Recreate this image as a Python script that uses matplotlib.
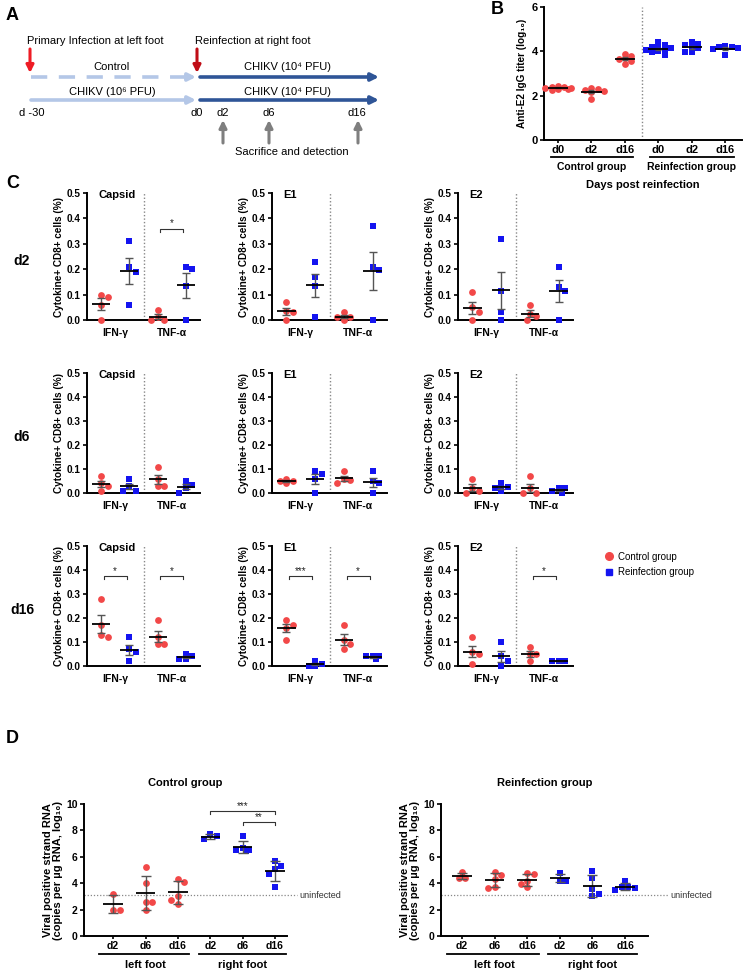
import numpy as np
import matplotlib
matplotlib.use("Agg")
import matplotlib.pyplot as plt
from matplotlib.lines import Line2D

plt.rcParams["font.family"] = ["Liberation Sans", "DejaVu Sans"]

W, H = 743, 972
RED = "#f24848"
BLUE = "#1414f0"
GREY = "#555555"
LIGHT = "#b4c7e7"
DARK = "#2f5597"

# ---------------- data ----------------
# panel B: anti-E2 IgG titer (log10)
b_ticks = ["d0", "d2", "d16", "d0", "d2", "d16"]
b_control = [
    [2.3, 2.35, 2.4, 2.45, 2.35, 2.3, 2.25, 2.4],
    [2.2, 2.3, 2.35, 2.15, 1.85, 2.25],
    [3.8, 3.9, 3.65, 3.55, 3.45, 3.7],
]
b_reinf = [
    [4.1, 4.2, 4.4, 3.95, 4.05, 4.15, 4.3, 3.85, 4.0, 4.2],
    [4.4, 4.3, 4.15, 4.35, 3.95, 3.95, 4.2],
    [4.25, 4.2, 4.15, 4.1, 3.85, 4.2],
]

# panel C: cytokine+ CD8+ cells (%), per antigen:
# [IFN control, IFN reinfection, TNF control, TNF reinfection]
c_days = ["d2", "d6", "d16"]
c_antigens = ["Capsid", "E1", "E2"]
c_cytokines = ["IFN-γ", "TNF-α"]
c_d2 = [
    [[0.09, 0.10, 0.06, 0.0], [0.31, 0.21, 0.19, 0.06], [0.04, 0.01, 0.0, 0.0], [0.21, 0.20, 0.135, 0.0]],
    [[0.07, 0.03, 0.035, 0.0], [0.23, 0.17, 0.135, 0.01], [0.03, 0.01, 0.01, 0.0], [0.37, 0.21, 0.195, 0.0]],
    [[0.11, 0.05, 0.03, 0.0], [0.32, 0.115, 0.03, 0.0], [0.06, 0.025, 0.015, 0.0], [0.21, 0.13, 0.115, 0.0]],
]
c_d6 = [
    [[0.07, 0.04, 0.03, 0.01], [0.06, 0.03, 0.01, 0.01], [0.11, 0.06, 0.03, 0.03], [0.05, 0.035, 0.02, 0.0]],
    [[0.06, 0.05, 0.05, 0.04], [0.09, 0.08, 0.06, 0.0], [0.09, 0.06, 0.055, 0.04], [0.09, 0.05, 0.04, 0.0]],
    [[0.06, 0.02, 0.01, 0.0], [0.04, 0.025, 0.02, 0.01], [0.07, 0.02, 0.0, 0.0], [0.02, 0.02, 0.01, 0.0]],
]
c_d16 = [
    [[0.28, 0.17, 0.13, 0.12], [0.12, 0.07, 0.06, 0.02], [0.19, 0.12, 0.09, 0.09], [0.05, 0.04, 0.03, 0.03]],
    [[0.19, 0.17, 0.16, 0.11], [0.02, 0.01, 0.0, 0.0], [0.17, 0.11, 0.09, 0.07], [0.04, 0.04, 0.04, 0.03]],
    [[0.12, 0.06, 0.05, 0.01], [0.10, 0.04, 0.02, 0.0], [0.08, 0.05, 0.05, 0.02], [0.02, 0.02, 0.02, 0.02]],
]
c_data = [c_d2, c_d6, c_d16]
# (row, col): list of (group a, group b, y, label)
c_sig = {
    (0, 0): [(2, 3, 0.36, "*")],
    (2, 0): [(0, 1, 0.375, "*"), (2, 3, 0.375, "*")],
    (2, 1): [(0, 1, 0.375, "***"), (2, 3, 0.375, "*")],
    (2, 2): [(2, 3, 0.375, "*")],
}

# panel D: viral positive strand RNA (log10 copies per ug RNA)
d_ticks = ["d2", "d6", "d16", "d2", "d6", "d16"]
d_ctrl_left = [[3.2, 2.0, 2.0], [5.2, 4.0, 2.6, 2.6, 2.0], [4.3, 4.1, 3.0, 2.7, 2.4]]
d_ctrl_right = [[7.7, 7.55, 7.35], [7.6, 6.7, 6.5, 6.45, 6.5], [5.7, 5.3, 5.1, 4.7, 3.7]]
d_re_left = [[4.85, 4.4, 4.4], [4.85, 4.65, 4.35, 3.75, 3.6], [4.75, 4.7, 4.2, 3.95, 3.7]]
d_re_right = [[4.75, 4.2, 4.2], [4.95, 4.4, 3.55, 3.15, 3.0], [4.2, 3.75, 3.7, 3.6, 3.45]]
d_uninfected = 3.1
d_sig = [(3, 5, 9.45, "***"), (4, 5, 8.6, "**")]


# ---------------- helpers ----------------
def px_axes(fig, l, t, r, b):
    return fig.add_axes([l / W, 1 - b / H, (r - l) / W, (b - t) / H])


def under(ax, px):
    return -px / (ax.get_position().height * H)


def swarm_offsets(vals, dx, dy, wmax=0.38):
    # simple beeswarm: dx/dy = marker diameter in data units, spread capped at wmax
    vals = np.asarray(vals, float)
    order = np.argsort(-vals, kind="stable")
    placed = []
    offs = np.zeros(len(vals))
    flip = 1
    nmax = int(wmax / (0.5 * dx))
    for i in order:
        cands = [0.0]
        for k in range(1, nmax + 1):
            cands += [flip * k * 0.5, -flip * k * 0.5]

        def mind(c):
            if not placed:
                return 9.0
            return min(np.hypot(c - po, (vals[i] - pv) / dy) for po, pv in placed)

        good = [c for c in cands if mind(c) >= 0.95]
        pos = good[0] if good else max(cands, key=mind)
        if pos != 0:
            flip = -np.sign(pos)
        placed.append((pos, vals[i]))
        offs[i] = pos * dx
    return offs


def draw_group(ax, x, vals, color, marker, dx, dy, err="sem", half=0.32, cap=3.2, size=24):
    vals = np.asarray(vals, float)
    offs = swarm_offsets(vals, dx, dy)
    ax.scatter(x + offs, vals, s=size, c=color, marker=marker, linewidths=0, zorder=3, clip_on=False)
    m = vals.mean()
    sd = vals.std(ddof=1)
    e = sd / np.sqrt(len(vals)) if err == "sem" else sd
    ax.errorbar([x], [m], yerr=[e], fmt="none", ecolor=GREY, elinewidth=1.0,
                capsize=cap, capthick=1.0, zorder=4)
    ax.plot([x - half, x + half], [m, m], color="black", lw=1.3, zorder=5, solid_capstyle="butt")


def style(ax, labelsize=7.2):
    for s in ["top", "right"]:
        ax.spines[s].set_visible(False)
    for s in ["left", "bottom"]:
        ax.spines[s].set_linewidth(1.4)
    ax.tick_params(width=1.2, length=3, labelsize=labelsize, pad=1.5)
    plt.setp(ax.get_yticklabels(), fontweight="bold")
    plt.setp(ax.get_xticklabels(), fontweight="bold")


def bracket(ax, x0, x1, y, txt, drop, fs=7):
    ax.plot([x0, x0, x1, x1], [y - drop, y, y, y - drop], color="#333333", lw=0.8, zorder=5, clip_on=False)
    ax.text((x0 + x1) / 2, y, txt, ha="center", va="bottom", fontsize=fs, color="#222222")


fig = plt.figure(figsize=(W / 100, H / 100), dpi=100)

# ---------------- overlay (panel A, letters, row labels) ----------------
ov = fig.add_axes([0, 0, 1, 1])
ov.set_xlim(0, W)
ov.set_ylim(H, 0)
ov.axis("off")

for letter, (lx, ly) in {"A": (6, 15), "B": (491, 9), "C": (6, 184), "D": (6, 738)}.items():
    ov.text(lx, ly, letter, fontsize=13, fontweight="bold", va="center", ha="left")

fs_a = 8
arrow_kw = dict(lw=2.6, mutation_scale=11, shrinkA=0, shrinkB=0, arrowstyle="-|>")
ov.text(27, 41, "Primary Infection at left foot", fontsize=fs_a, va="center")
ov.text(195, 41, "Reinfection at right foot", fontsize=fs_a, va="center")
for x, col in [(30, "#ee1c25"), (197, "#c00d16")]:
    ov.annotate("", xy=(x, 73), xytext=(x, 49), arrowprops=dict(arrow_kw, color=col, lw=2.2))
ov.plot([31, 186], [77, 77], color=LIGHT, lw=2.6, dashes=(4.5, 3.2), solid_capstyle="butt")
ov.annotate("", xy=(196, 77), xytext=(185, 77), arrowprops=dict(arrow_kw, color=LIGHT))
ov.annotate("", xy=(196, 100), xytext=(31, 100), arrowprops=dict(arrow_kw, color=LIGHT))
for y in (77, 100):
    ov.annotate("", xy=(379, y), xytext=(200, y), arrowprops=dict(arrow_kw, color=DARK))
ov.text(112, 67, "Control", fontsize=fs_a, ha="center", va="center")
ov.text(112, 92, "CHIKV (10⁶ PFU)", fontsize=fs_a, ha="center", va="center")
ov.text(288, 67, "CHIKV (10⁴ PFU)", fontsize=fs_a, ha="center", va="center")
ov.text(288, 92, "CHIKV (10⁴ PFU)", fontsize=fs_a, ha="center", va="center")
for x, t in [(32, "d -30"), (197, "d0"), (223, "d2"), (269, "d6"), (357, "d16")]:
    ov.text(x, 113, t, fontsize=fs_a, ha="center", va="center")
for x in (223, 269, 358):
    ov.annotate("", xy=(x, 120), xytext=(x, 143), arrowprops=dict(arrow_kw, color="#7f7f7f", lw=2.2))
ov.text(292, 152, "Sacrifice and detection", fontsize=fs_a, ha="center", va="center")

# ---------------- panel B ----------------
axb = px_axes(fig, 544, 7, 742, 140)
for i, vals in enumerate(b_control):
    draw_group(axb, i, vals, RED, "o", dx=0.19, dy=0.2, half=0.3, cap=2.5)
for i, vals in enumerate(b_reinf):
    draw_group(axb, i + 3, vals, BLUE, "s", dx=0.19, dy=0.2, half=0.3, cap=2.5)
axb.set_xlim(-0.42, 5.5)
axb.set_ylim(0, 6)
axb.set_yticks([0, 2, 4, 6])
axb.set_xticks(range(6), b_ticks)
axb.axvline(2.5, color="#888888", ls=(0, (1, 1.5)), lw=1)
axb.set_ylabel("Anti-E2 IgG titer (log₁₀)", fontsize=7.2, fontweight="bold", labelpad=3)
style(axb, labelsize=8)
axb.tick_params(axis="x", length=2)
tr = axb.get_xaxis_transform()
for (x0, x1, c, name) in [(-0.2, 2.25, 1.0, "Control group"), (2.75, 5.25, 4.0, "Reinfection group")]:
    axb.plot([x0, x1], [under(axb, 17)] * 2, transform=tr, clip_on=False, color="black", lw=1.3)
    axb.text(c, under(axb, 27), name, transform=tr, ha="center", va="center", fontsize=7.5, fontweight="bold")
axb.text(0.5, under(axb, 45), "Days post reinfection", transform=axb.transAxes,
         ha="center", va="center", fontsize=8, fontweight="bold")

# ---------------- panel C ----------------
col_l = [87, 272, 458]
col_r = [200, 387, 573]
row_t = [193, 373, 546]
row_b = [320, 493, 666]
for r in range(3):
    ov.text(22, (row_t[r] + row_b[r]) / 2 + 4, c_days[r], fontsize=10, fontweight="bold", ha="center", va="center")
    for c in range(3):
        ax = px_axes(fig, col_l[c], row_t[r], col_r[c], row_b[r])
        groups = c_data[r][c]
        for g, vals in enumerate(groups):
            if g % 2 == 0:
                draw_group(ax, g, vals, RED, "o", dx=0.23, dy=0.027)
            else:
                draw_group(ax, g, vals, BLUE, "s", dx=0.23, dy=0.027)
        ax.set_xlim(-0.5, 3.5)
        ax.set_ylim(0, 0.5)
        ax.set_yticks(np.arange(0, 0.51, 0.1), [f"{v:.1f}" for v in np.arange(0, 0.51, 0.1)])
        ax.set_xticks([0.5, 2.5], c_cytokines)
        ax.axvline(1.5, color="#888888", ls=(0, (1, 1.5)), lw=1)
        ax.set_ylabel("Cytokine+ CD8+ cells (%)", fontsize=7.2, fontweight="bold", labelpad=2)
        style(ax)
        ax.tick_params(axis="x", length=0, pad=6, labelsize=7.5)
        ax.text(0.1, 0.985, c_antigens[c], transform=ax.transAxes, fontsize=8,
                fontweight="bold", va="center", ha="left")
        for (a, b, y, txt) in c_sig.get((r, c), []):
            bracket(ax, a + 0.1, b - 0.1, y, txt, 0.012, fs=7)

handles = [Line2D([], [], ls="", marker="o", color=RED, markersize=5.5),
           Line2D([], [], ls="", marker="s", color=BLUE, markersize=5)]
fig.legend(handles, ["Control group", "Reinfection group"], loc="upper left",
           bbox_to_anchor=(594 / W, 1 - 543 / H), frameon=False, fontsize=7,
           handletextpad=0.4, labelspacing=0.55, handlelength=1.2)

# ---------------- panel D ----------------
d_panels = [
    ("Control group", (84, 804, 287, 936), d_ctrl_left, d_ctrl_right, (-0.9, 5.37), 1.05, d_sig),
    ("Reinfection group", (441, 804, 648, 936), d_re_left, d_re_right, (-0.64, 5.7), 1.1, []),
]
for title, box, left, right, xl, ext, sig in d_panels:
    ax = px_axes(fig, *box)
    for i, vals in enumerate(left):
        draw_group(ax, i, vals, RED, "o", dx=0.2, dy=0.5, err="sd", half=0.3, cap=3.5)
    for i, vals in enumerate(right):
        draw_group(ax, i + 3, vals, BLUE, "s", dx=0.2, dy=0.5, err="sd", half=0.3, cap=3.5)
    ax.set_xlim(*xl)
    ax.set_ylim(0, 10)
    ax.set_yticks(range(0, 11, 2))
    ax.set_xticks(range(6), d_ticks)
    ax.set_ylabel("Viral positive strand RNA\n(copies per µg RNA, log₁₀)", fontsize=8,
                  fontweight="bold", labelpad=2, linespacing=1.1)
    style(ax, labelsize=7.5)
    ax.tick_params(axis="x", length=2)
    ax.set_title(title, fontsize=8, fontweight="bold", pad=13)
    ax.plot([0, ext], [d_uninfected] * 2, transform=ax.get_yaxis_transform(), clip_on=False,
            color="#888888", ls=(0, (1, 1.5)), lw=0.9, zorder=1)
    ax.text(ext + 0.01, d_uninfected, "uninfected", transform=ax.get_yaxis_transform(),
            fontsize=6.5, va="center", ha="left", color="#333333")
    tr = ax.get_xaxis_transform()
    for (x0, x1, c, name) in [(-0.45, 2.35, 1.0, "left foot"), (2.65, 5.35, 4.0, "right foot")]:
        ax.plot([x0, x1], [under(ax, 18)] * 2, transform=tr, clip_on=False, color="black", lw=1.3)
        ax.text(c, under(ax, 29), name, transform=tr, ha="center", va="center", fontsize=8, fontweight="bold")
    for (a, b, y, txt) in sig:
        bracket(ax, a, b, y, txt, 0.2, fs=7)

fig.savefig("out.png", dpi=100)
